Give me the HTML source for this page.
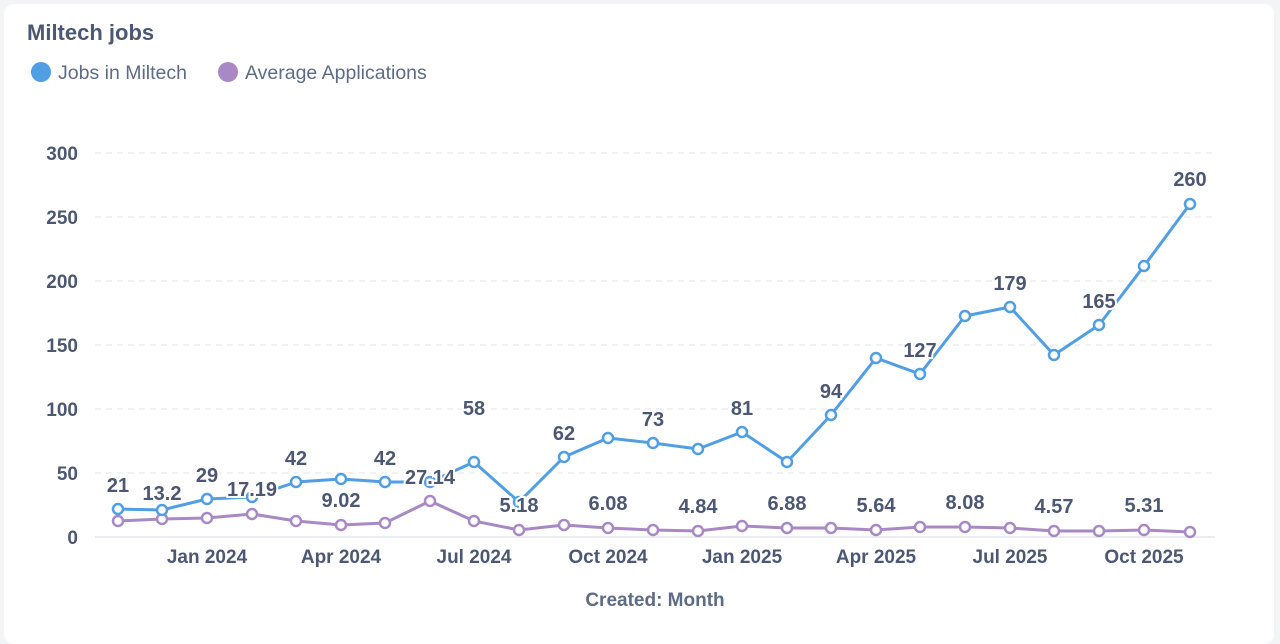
<!DOCTYPE html>
<html><head><meta charset="utf-8"><style>
html,body{margin:0;padding:0;background:#f3f4f6;}
.card{position:absolute;left:4px;top:4px;width:1270px;height:640px;background:#fff;border-radius:10px;}
svg{position:absolute;left:0;top:0;}
text{font-family:"Liberation Sans",sans-serif;}
</style></head><body>
<div class="card"></div>
<svg width="1280" height="632" viewBox="0 0 1280 632">
<text x="27" y="40" font-size="22" font-weight="bold" fill="#4C5773">Miltech jobs</text>
<circle cx="41" cy="72" r="10" fill="#509EE3"/>
<text x="58" y="79" font-size="19.5" fill="#5E6B85">Jobs in Miltech</text>
<circle cx="228" cy="72" r="10" fill="#A989C5"/>
<text x="245" y="79" font-size="19.5" fill="#5E6B85">Average Applications</text>
<g stroke="#E3E6EB" stroke-width="1" stroke-dasharray="6,5">
<line x1="95" y1="153" x2="1215" y2="153"/><line x1="95" y1="217" x2="1215" y2="217"/>
<line x1="95" y1="281" x2="1215" y2="281"/><line x1="95" y1="345" x2="1215" y2="345"/>
<line x1="95" y1="409" x2="1215" y2="409"/><line x1="95" y1="473" x2="1215" y2="473"/>
</g>
<line x1="95" y1="537" x2="1215" y2="537" stroke="#E3E6EB" stroke-width="1.5"/>
<g font-size="19" font-weight="bold" fill="#4C5773" text-anchor="end">
<text x="78" y="160">300</text><text x="78" y="224">250</text><text x="78" y="288">200</text>
<text x="78" y="352">150</text><text x="78" y="416">100</text><text x="78" y="480">50</text><text x="78" y="544">0</text>
</g>
<g font-size="19" font-weight="bold" fill="#4C5773" text-anchor="middle">
<text x="207" y="563">Jan 2024</text><text x="341" y="563">Apr 2024</text><text x="474" y="563">Jul 2024</text>
<text x="608" y="563">Oct 2024</text><text x="742" y="563">Jan 2025</text><text x="876" y="563">Apr 2025</text>
<text x="1010" y="563">Jul 2025</text><text x="1144" y="563">Oct 2025</text>
<text x="655" y="606" fill="#5E6B85">Created: Month</text>
</g>
<polyline fill="none" stroke="#A989C5" stroke-width="3" stroke-linejoin="round" points="118,521 162,519 207,518 252,514 296,521 341,525 385,523 430,501 474,521 519,530 564,525 608,528 653,530 698,531 742,526 787,528 831,528 876,530 920,527 965,527 1010,528 1054,531 1099,531 1144,530 1190,532"/>
<g fill="#fff" stroke="#A989C5" stroke-width="2.5">
<circle cx="118" cy="521" r="5"/><circle cx="162" cy="519" r="5"/><circle cx="207" cy="518" r="5"/><circle cx="252" cy="514" r="5"/><circle cx="296" cy="521" r="5"/><circle cx="341" cy="525" r="5"/><circle cx="385" cy="523" r="5"/><circle cx="430" cy="501" r="5"/><circle cx="474" cy="521" r="5"/><circle cx="519" cy="530" r="5"/><circle cx="564" cy="525" r="5"/><circle cx="608" cy="528" r="5"/><circle cx="653" cy="530" r="5"/><circle cx="698" cy="531" r="5"/><circle cx="742" cy="526" r="5"/><circle cx="787" cy="528" r="5"/><circle cx="831" cy="528" r="5"/><circle cx="876" cy="530" r="5"/><circle cx="920" cy="527" r="5"/><circle cx="965" cy="527" r="5"/><circle cx="1010" cy="528" r="5"/><circle cx="1054" cy="531" r="5"/><circle cx="1099" cy="531" r="5"/><circle cx="1144" cy="530" r="5"/><circle cx="1190" cy="532" r="5"/>
</g>
<polyline fill="none" stroke="#509EE3" stroke-width="3" stroke-linejoin="round" points="118,509 162,510 207,499 252,497 296,482 341,479 385,482 430,482 474,462 519,502 564,457 608,438 653,443 698,449 742,432 787,462 831,415 876,358 920,374 965,316 1010,307 1054,355 1099,325 1144,266 1190,204"/>
<g fill="#fff" stroke="#509EE3" stroke-width="2.5">
<circle cx="118" cy="509" r="5"/><circle cx="162" cy="510" r="5"/><circle cx="207" cy="499" r="5"/><circle cx="252" cy="497" r="5"/><circle cx="296" cy="482" r="5"/><circle cx="341" cy="479" r="5"/><circle cx="385" cy="482" r="5"/><circle cx="430" cy="482" r="5"/><circle cx="474" cy="462" r="5"/><circle cx="519" cy="502" r="5"/><circle cx="564" cy="457" r="5"/><circle cx="608" cy="438" r="5"/><circle cx="653" cy="443" r="5"/><circle cx="698" cy="449" r="5"/><circle cx="742" cy="432" r="5"/><circle cx="787" cy="462" r="5"/><circle cx="831" cy="415" r="5"/><circle cx="876" cy="358" r="5"/><circle cx="920" cy="374" r="5"/><circle cx="965" cy="316" r="5"/><circle cx="1010" cy="307" r="5"/><circle cx="1054" cy="355" r="5"/><circle cx="1099" cy="325" r="5"/><circle cx="1144" cy="266" r="5"/><circle cx="1190" cy="204" r="5"/>
</g>
<g font-size="20" font-weight="bold" fill="#4C5773" text-anchor="middle" stroke="#fff" stroke-width="4" paint-order="stroke">
<text x="118" y="492">21</text><text x="207" y="482">29</text><text x="296" y="465">42</text><text x="385" y="465">42</text>
<text x="474" y="415">58</text><text x="564" y="440">62</text><text x="653" y="426">73</text><text x="742" y="415">81</text>
<text x="831" y="398">94</text><text x="920" y="357">127</text><text x="1010" y="290">179</text><text x="1099" y="308">165</text><text x="1190" y="186">260</text>
<text x="162" y="500">13.2</text><text x="252" y="496">17.19</text><text x="341" y="507">9.02</text><text x="430" y="484">27.14</text>
<text x="519" y="512">5.18</text><text x="608" y="510">6.08</text><text x="698" y="513">4.84</text><text x="787" y="510">6.88</text>
<text x="876" y="512">5.64</text><text x="965" y="509">8.08</text><text x="1054" y="513">4.57</text><text x="1144" y="512">5.31</text>
</g>
</svg>
</body></html>
